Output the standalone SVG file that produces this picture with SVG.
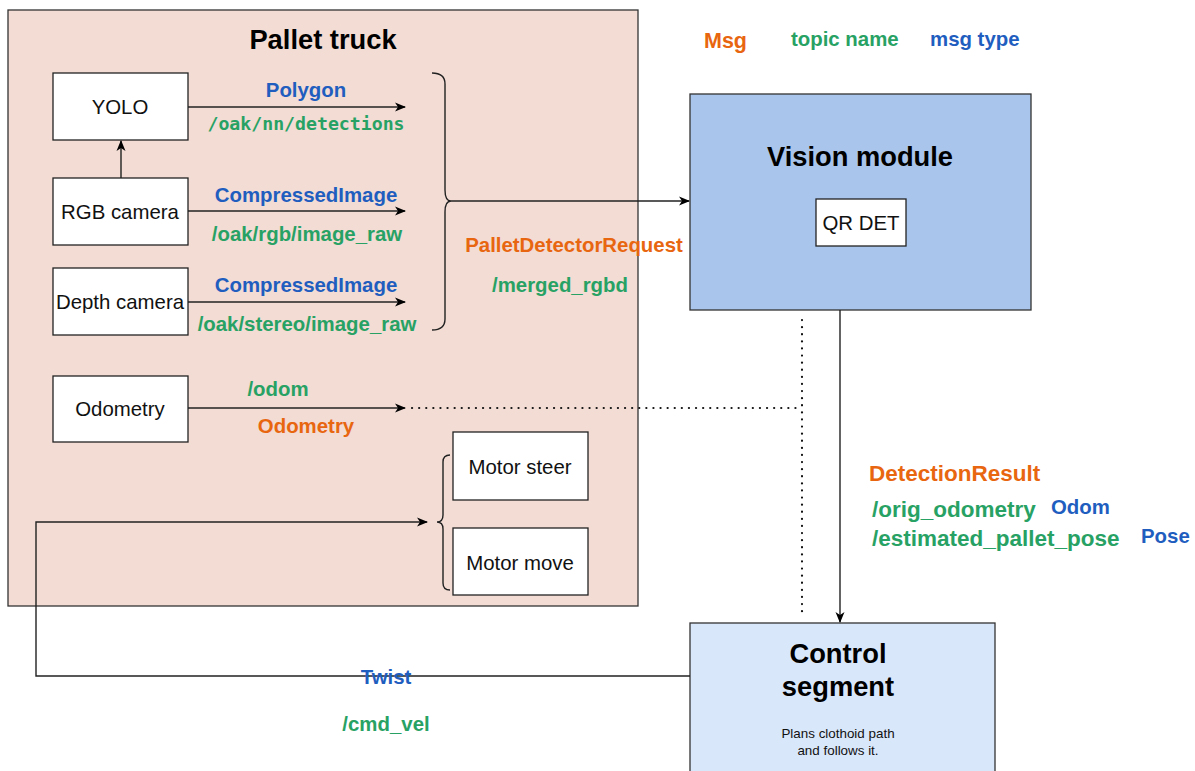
<svg xmlns="http://www.w3.org/2000/svg" width="1195" height="771" viewBox="0 0 1195 771">
<defs>
<marker id="ah" markerWidth="11" markerHeight="10" refX="10" refY="5" orient="auto" markerUnits="userSpaceOnUse">
<path d="M0,0.5 L11,5 L0,9.5 L3,5 Z" fill="#000"/>
</marker>
<style>
.box{fill:#fff;stroke:#222;stroke-width:1.3}
.lbl{font-family:"Liberation Sans",Arial,sans-serif;font-size:20.4px;fill:#111;text-anchor:middle}
.t{font-family:"Liberation Sans",Arial,sans-serif;font-weight:bold;font-size:27.3px;fill:#000;text-anchor:middle}
.o{font-family:"Liberation Sans",Arial,sans-serif;font-weight:bold;font-size:20.4px;fill:#e8660f}
.g{font-family:"Liberation Sans",Arial,sans-serif;font-weight:bold;font-size:20.4px;fill:#28a264}
.b{font-family:"Liberation Sans",Arial,sans-serif;font-weight:bold;font-size:20.4px;fill:#1f5ebf}
.big{font-size:22.5px}
.m{font-family:"DejaVu Sans Mono",monospace;font-weight:bold;font-size:18.2px;fill:#28a264}
.c{text-anchor:middle}
.ln{fill:none;stroke:#222;stroke-width:1.4}
.dot{fill:none;stroke:#111;stroke-width:2.2;stroke-dasharray:0.1 7;stroke-linecap:round}
</style>
</defs>
<rect width="1195" height="771" fill="#fff"/>
<g id="pallet-truck">
<rect x="8" y="10" width="630" height="596" fill="#f2dcd4" stroke="#333" stroke-width="1.3"/>
<text class="t" x="323" y="49">Pallet truck</text>
</g>
<g id="yolo"><rect class="box" x="53" y="73" width="135" height="67"/><text class="lbl" x="120" y="114">YOLO</text></g>
<g id="rgb-camera"><rect class="box" x="53" y="178" width="135" height="67"/><text class="lbl" x="120" y="219">RGB camera</text></g>
<g id="depth-camera"><rect class="box" x="53" y="268" width="135" height="67"/><text class="lbl" x="120" y="309">Depth camera</text></g>
<g id="odometry"><rect class="box" x="53" y="376" width="135" height="66"/><text class="lbl" x="120" y="416">Odometry</text></g>
<g id="motor-steer"><rect class="box" x="453" y="432" width="135" height="68"/><text class="lbl" x="520" y="474">Motor steer</text></g>
<g id="motor-move"><rect class="box" x="453" y="528" width="135" height="67"/><text class="lbl" x="520" y="570">Motor move</text></g>
<g id="vision-module">
<rect x="690" y="94" width="341" height="216" fill="#a9c5ec" stroke="#333" stroke-width="1.3"/>
<text class="t" x="860" y="166">Vision module</text>
<rect class="box" x="816" y="199" width="90" height="47"/>
<text class="lbl" x="861" y="230">QR DET</text>
</g>
<g id="control-segment">
<rect x="690" y="623" width="305" height="160" fill="#d9e7fb" stroke="#333" stroke-width="1.3"/>
<text class="t" x="838" y="663">Control</text>
<text class="t" x="838" y="696">segment</text>
<text class="lbl" x="838" y="738" style="font-size:13.4px">Plans clothoid path</text>
<text class="lbl" x="838" y="755" style="font-size:13.4px">and follows it.</text>
</g>
<g id="connectors">
<path class="ln" d="M121,178 V141" marker-end="url(#ah)"/>
<path class="ln" d="M188,107 H405" marker-end="url(#ah)"/>
<path class="ln" d="M188,211 H405" marker-end="url(#ah)"/>
<path class="ln" d="M188,302 H405" marker-end="url(#ah)"/>
<path class="ln" d="M188,408 H405" marker-end="url(#ah)"/>
<path class="dot" d="M412,408 H802 M802,320 V617"/>
<path class="ln" d="M432,73 Q445,73 445,84 V190 Q445,201 451,201 Q445,201 445,212 V319 Q445,330 432,330"/>
<path class="ln" d="M451,201 H689" marker-end="url(#ah)"/>
<path class="ln" d="M840,310 V622" marker-end="url(#ah)"/>
<path class="ln" d="M690,676 H36 V522 H427" marker-end="url(#ah)"/>
<path class="ln" d="M450,455 Q443,455 443,462 V515 Q443,522 437,522 Q443,522 443,529 V583 Q443,590 450,590"/>
</g>
<g id="labels">
<text class="b c" x="306" y="97">Polygon</text>
<text class="m c" x="306" y="130">/oak/nn/detections</text>
<text class="b c" x="306" y="202">CompressedImage</text>
<text class="g c" x="307" y="241">/oak/rgb/image_raw</text>
<text class="b c" x="306" y="292">CompressedImage</text>
<text class="g c" x="307" y="331">/oak/stereo/image_raw</text>
<text class="g c" x="278" y="396">/odom</text>
<text class="o c" x="306" y="433">Odometry</text>
<text class="o c" x="574" y="252">PalletDetectorRequest</text>
<text class="g c" x="560" y="292">/merged_rgbd</text>
<text class="o big" x="869" y="481">DetectionResult</text>
<text class="g big" x="872" y="517">/orig_odometry</text>
<text class="b" x="1051" y="514">Odom</text>
<text class="g big" x="872" y="546">/estimated_pallet_pose</text>
<text class="b" x="1141" y="543">Pose</text>
<text class="b c" x="386" y="684">Twist</text>
<text class="g c" x="386" y="731">/cmd_vel</text>
<text class="o" x="704" y="48" style="font-size:21.5px">Msg</text>
<text class="g" x="791" y="46">topic name</text>
<text class="b" x="930" y="46">msg type</text>
</g>
</svg>
